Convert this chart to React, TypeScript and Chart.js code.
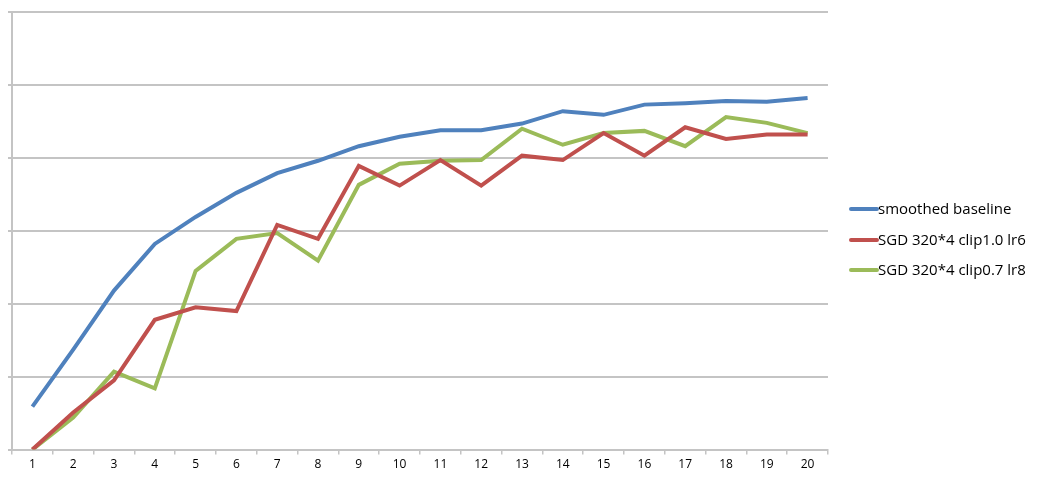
import React, { useEffect, useRef } from "react";
import { Chart, registerables } from "chart.js";

Chart.register(...registerables);

const categories = ["1","2","3","4","5","6","7","8","9","10","11","12","13","14","15","16","17","18","19","20"];
const smoothedBaseline = [0.59,1.37,2.18,2.82,3.19,3.52,3.79,3.96,4.16,4.29,4.38,4.38,4.47,4.64,4.59,4.73,4.75,4.78,4.77,4.82];
const sgdClip10 = [0,0.51,0.95,1.78,1.95,1.9,3.08,2.89,3.89,3.62,3.97,3.62,4.03,3.97,4.34,4.03,4.42,4.26,4.32,4.32];
const sgdClip07 = [0,0.44,1.07,0.84,2.45,2.89,2.97,2.59,3.63,3.92,3.96,3.97,4.4,4.18,4.34,4.37,4.16,4.56,4.48,4.34];
const seriesNames = ["smoothed baseline","SGD 320*4 clip1.0 lr6","SGD 320*4 clip0.7 lr8"];
const seriesColors = ["#4f81bd","#c0504d","#9bbb59"];

const legendPlugin = {
  id: "customLegend",
  afterDraw(chart: any) {
    const ctx = chart.ctx;
    ctx.save();
    const ys = [209, 240, 270];
    ctx.font = "15px 'Open Sans'";
    ctx.textBaseline = "middle";
    ctx.textAlign = "left";
    seriesNames.forEach((name, i) => {
      ctx.strokeStyle = seriesColors[i];
      ctx.lineWidth = 4;
      ctx.lineCap = "round";
      ctx.beginPath();
      ctx.moveTo(851, ys[i]);
      ctx.lineTo(877, ys[i]);
      ctx.stroke();
      ctx.fillStyle = "#000000";
      ctx.fillText(name, 878, ys[i] + 1);
    });
    ctx.restore();
  },
};

export default function App() {
  const ref = useRef<HTMLCanvasElement>(null);
  useEffect(() => {
    if (!ref.current) return;
    const chart = new Chart(ref.current, {
      type: "line",
      data: {
        labels: categories,
        datasets: [smoothedBaseline, sgdClip10, sgdClip07].map((d, i) => ({
          label: seriesNames[i],
          data: d,
          borderColor: seriesColors[i],
          backgroundColor: seriesColors[i],
          borderWidth: 4,
          pointRadius: 0,
          tension: 0,
          fill: false,
        })),
      },
      options: {
        responsive: false,
        animation: false,
        layout: { padding: { left: 8, right: 218, top: 12, bottom: 15 } },
        plugins: { legend: { display: false }, tooltip: { enabled: false } },
        scales: {
          x: {
            offset: true,
            grid: { display: true, drawOnChartArea: false, offset: true, tickLength: 5, color: "#c4c4c4", lineWidth: 1.5 },
            border: { color: "#c4c4c4", width: 2 },
            ticks: { color: "#000000", font: { family: "'Open Sans'", size: 12 }, padding: 3, maxRotation: 0, autoSkip: false },
          },
          y: {
            min: 0,
            max: 6,
            grid: { color: "#c4c4c4", lineWidth: 2, tickLength: 4 },
            border: { color: "#c4c4c4", width: 2 },
            ticks: { display: false, stepSize: 1 },
          },
        },
      },
      plugins: [legendPlugin],
    });
    return () => chart.destroy();
  }, []);
  return (
    <div style={{ position: "fixed", left: 0, top: 0, width: 1046, height: 490, background: "#ffffff" }}>
      <canvas ref={ref} width={1046} height={490} style={{ display: "block" }} />
    </div>
  );
}
